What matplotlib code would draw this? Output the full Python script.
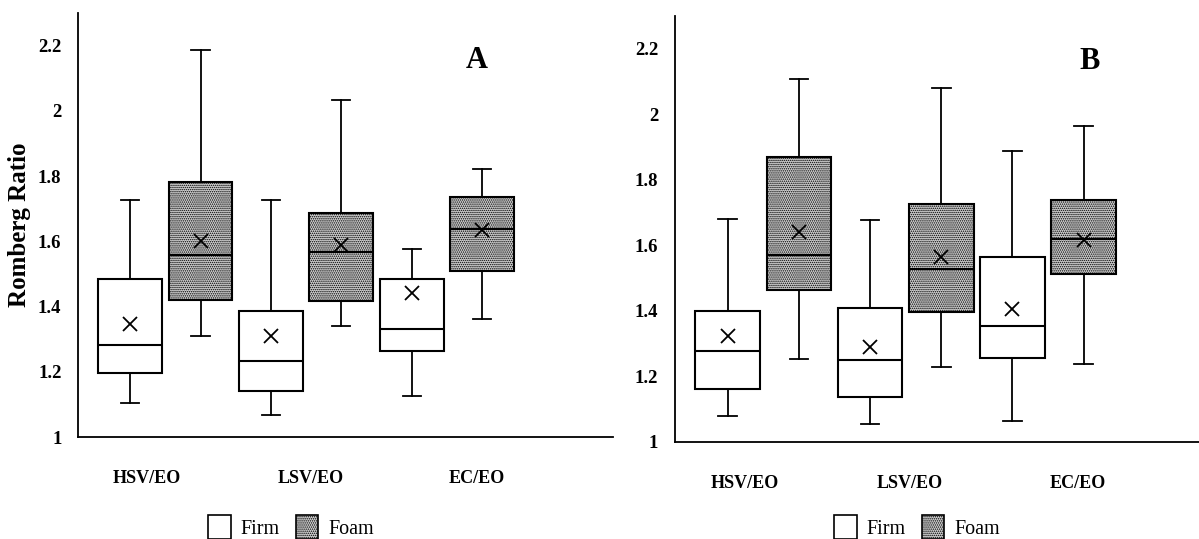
import matplotlib
matplotlib.use("Agg")
import matplotlib.pyplot as plt
from matplotlib.patches import Patch

plt.rcParams['font.family'] = ['Liberation Serif', 'DejaVu Serif']
plt.rcParams['hatch.linewidth'] = 0.7
plt.rcParams['hatch.color'] = '#555555'

categories = ['HSV/EO', 'LSV/EO', 'EC/EO']
series = ['Firm', 'Foam']
yticks = [1, 1.2, 1.4, 1.6, 1.8, 2, 2.2]

# panel A
a_firm_low = [1.104, 1.069, 1.127]
a_firm_q1 = [1.196, 1.140, 1.265]
a_firm_med = [1.283, 1.232, 1.331]
a_firm_q3 = [1.483, 1.386, 1.483]
a_firm_high = [1.726, 1.726, 1.577]
a_firm_mean = [1.348, 1.311, 1.442]

a_foam_low = [1.309, 1.341, 1.363]
a_foam_q1 = [1.421, 1.418, 1.509]
a_foam_med = [1.558, 1.568, 1.639]
a_foam_q3 = [1.782, 1.686, 1.735]
a_foam_high = [2.186, 2.032, 1.822]
a_foam_mean = [1.601, 1.588, 1.635]

# panel B
b_firm_low = [1.079, 1.055, 1.064]
b_firm_q1 = [1.160, 1.138, 1.255]
b_firm_med = [1.278, 1.250, 1.353]
b_firm_q3 = [1.398, 1.407, 1.563]
b_firm_high = [1.679, 1.676, 1.887]
b_firm_mean = [1.324, 1.288, 1.405]

b_foam_low = [1.254, 1.228, 1.237]
b_foam_q1 = [1.462, 1.395, 1.512]
b_foam_med = [1.569, 1.526, 1.620]
b_foam_q3 = [1.868, 1.725, 1.737]
b_foam_high = [2.107, 2.081, 1.963]
b_foam_mean = [1.640, 1.564, 1.615]


def make_stats(low, q1, med, q3, high, mean):
    out = []
    for i in range(len(low)):
        out.append(dict(whislo=low[i], q1=q1[i], med=med[i], q3=q3[i],
                        whishi=high[i], mean=mean[i], fliers=[]))
    return out


styles = [dict(facecolor='white', hatch=None),
          dict(facecolor='#cfcfcf', hatch='........')]
offsets = [-0.25, 0.25]
label_shift = [-0.13, 0.03, 0.21]


def draw_panel(ax, panel_stats, letter, letter_xy, xmax):
    for k, st in enumerate(panel_stats):
        pos = [i + offsets[k] for i in range(len(categories))]
        ax.bxp(st, positions=pos, widths=0.454, capwidths=0.13,
               showmeans=True, showfliers=False, patch_artist=True,
               manage_ticks=False,
               boxprops=dict(facecolor=styles[k]['facecolor'],
                             hatch=styles[k]['hatch'],
                             edgecolor='black', linewidth=1.5),
               medianprops=dict(color='black', linewidth=1.5),
               whiskerprops=dict(color='black', linewidth=1.3),
               capprops=dict(color='black', linewidth=1.3),
               meanprops=dict(marker='x', markeredgecolor='black',
                              markersize=10, markeredgewidth=1.3))
    ax.set_xlim(-0.62, xmax)
    ax.set_ylim(1, 2.3)
    ax.set_yticks(yticks)
    ax.set_yticklabels(['%g' % v for v in yticks], fontweight='bold',
                       fontsize=13.5)
    ax.set_xticks([i + label_shift[i] for i in range(len(categories))])
    ax.set_xticklabels(categories, fontweight='bold', fontsize=13)
    ax.tick_params(axis='both', length=0)
    ax.tick_params(axis='x', pad=24)
    ax.tick_params(axis='y', pad=12)
    for s in ['top', 'right']:
        ax.spines[s].set_visible(False)
    for s in ['left', 'bottom']:
        ax.spines[s].set_linewidth(1.3)
    ax.text(letter_xy[0], letter_xy[1], letter, fontsize=22,
            fontweight='bold', ha='center', va='center')


fig = plt.figure(figsize=(11.99, 5.39), dpi=100)
axA = fig.add_axes([0.0651, 0.1892, 0.4462, 0.7866])
axB = fig.add_axes([0.563, 0.1805, 0.437, 0.7898])

stats_a = [make_stats(a_firm_low, a_firm_q1, a_firm_med, a_firm_q3, a_firm_high, a_firm_mean),
           make_stats(a_foam_low, a_foam_q1, a_foam_med, a_foam_q3, a_foam_high, a_foam_mean)]
stats_b = [make_stats(b_firm_low, b_firm_q1, b_firm_med, b_firm_q3, b_firm_high, b_firm_mean),
           make_stats(b_foam_low, b_foam_q1, b_foam_med, b_foam_q3, b_foam_high, b_foam_mean)]

draw_panel(axA, stats_a, 'A', (2.21, 2.154), 3.18)
draw_panel(axB, stats_b, 'B', (2.29, 2.162), 3.06)

axA.set_ylabel('Romberg Ratio', fontweight='bold', fontsize=18)
axA.yaxis.set_label_coords(-0.088, 0.5)

handles = [Patch(facecolor=styles[k]['facecolor'], hatch=styles[k]['hatch'],
                 edgecolor='black', linewidth=1.2, label=series[k])
           for k in range(len(series))]
for cx in [291 / 1199, 917 / 1199]:
    fig.legend(handles=handles, loc='center', bbox_to_anchor=(cx, 1 - 527 / 539),
               ncol=2, frameon=False, fontsize=14.5, handlelength=1.1,
               handleheight=1.4, handletextpad=0.5, columnspacing=0.8,
               borderaxespad=0, borderpad=0)

fig.savefig('out.png', dpi=100)
